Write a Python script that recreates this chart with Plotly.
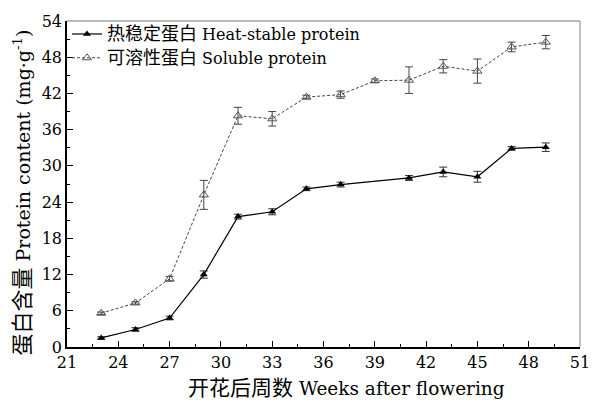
import plotly.graph_objects as go

weeks_heat = [23, 25, 27, 29, 31, 33, 35, 37, 41, 43, 45, 47, 49]
heat = [1.5, 2.9, 4.8, 12.0, 21.6, 22.4, 26.2, 26.9, 28.0, 29.0, 28.2, 32.9, 33.1]
heat_err = [0.2, 0.3, 0.3, 0.6, 0.4, 0.5, 0.3, 0.4, 0.4, 0.8, 0.9, 0.3, 0.7]

weeks_sol = [23, 25, 27, 29, 31, 33, 35, 37, 39, 41, 43, 45, 47, 49]
sol = [5.6, 7.3, 11.3, 25.2, 38.3, 37.8, 41.4, 41.8, 44.1, 44.2, 46.5, 45.7, 49.7, 50.5]
sol_err = [0.2, 0.2, 0.4, 2.4, 1.4, 1.2, 0.3, 0.6, 0.3, 2.2, 1.1, 2.0, 0.8, 1.1]

x_title_cn = "开花后周数"
x_title_en = "Weeks after flowering"
y_title_cn = "蛋白含量"
y_title_en = "Protein content (mg·g<sup>-1</sup>)"
name_heat_cn, name_heat_en = "热稳定蛋白", "Heat-stable protein"
name_sol_cn, name_sol_en = "可溶性蛋白", "Soluble protein"

FONT = "DejaVu Serif, Noto Sans CJK SC, serif"


def mixed(cn, en, cn_size):
    return f"<span style='font-size:{cn_size}px'>{cn}</span> {en}"


fig = go.Figure()
fig.add_trace(go.Scatter(
    x=weeks_heat, y=heat, name=mixed(name_heat_cn, name_heat_en, 18), mode="lines+markers",
    line=dict(color="black", width=1.2),
    marker=dict(symbol="triangle-up", size=7, color="black"),
    error_y=dict(type="data", array=heat_err, color="#333", thickness=1, width=4),
))
fig.add_trace(go.Scatter(
    x=weeks_sol, y=sol, name=mixed(name_sol_cn, name_sol_en, 18), mode="lines+markers",
    line=dict(color="#444", width=1, dash="3px,2px"),
    marker=dict(symbol="triangle-up-open", size=8, color="#555", line=dict(width=1)),
    error_y=dict(type="data", array=sol_err, color="#444", thickness=1, width=4),
))

fig.update_layout(
    width=602, height=404,
    margin=dict(l=67, r=15, t=17, b=57),
    paper_bgcolor="white", plot_bgcolor="white",
    font=dict(family=FONT, color="black", size=16),
    showlegend=True,
    legend=dict(x=0.0, y=1.012, xanchor="left", yanchor="top",
                bgcolor="rgba(0,0,0,0)", font=dict(size=16, family=FONT),
                tracegroupgap=0, itemwidth=30),
    xaxis=dict(range=[21, 51], dtick=3, tick0=21, showgrid=False, zeroline=False,
               showline=True, linecolor="black", linewidth=1.5,
               ticks="inside", ticklen=6, tickcolor="black",
               minor=dict(dtick=1.5, ticks="inside", ticklen=3, tickcolor="black"),
               tickfont=dict(size=16)),
    yaxis=dict(range=[0, 54], dtick=6, tick0=0, showgrid=False, zeroline=False,
               showline=True, linecolor="black", linewidth=1.5,
               ticks="inside", ticklen=6, tickcolor="black",
               minor=dict(dtick=3, ticks="inside", ticklen=3, tickcolor="black"),
               tickfont=dict(size=16)),
    annotations=[
        dict(text=mixed(x_title_cn, x_title_en, 21), xref="paper", yref="paper",
             x=(350 - 67) / 520, y=-(388 - 347) / 330, xanchor="center", yanchor="middle",
             showarrow=False, font=dict(size=18.5)),
        dict(text=mixed(y_title_cn, y_title_en, 22), xref="paper", yref="paper",
             x=-(67 - 22) / 520, y=(347 - 191) / 330, xanchor="center", yanchor="middle",
             textangle=-90, showarrow=False, font=dict(size=19)),
    ],
    shapes=[
        dict(type="line", xref="paper", yref="paper", x0=0, x1=1, y0=1, y1=1,
             line=dict(color="#777", width=1.2)),
        dict(type="line", xref="paper", yref="paper", x0=1, x1=1, y0=0, y1=1,
             line=dict(color="#999", width=1.2)),
    ],
)

fig.write_html("out.html")
